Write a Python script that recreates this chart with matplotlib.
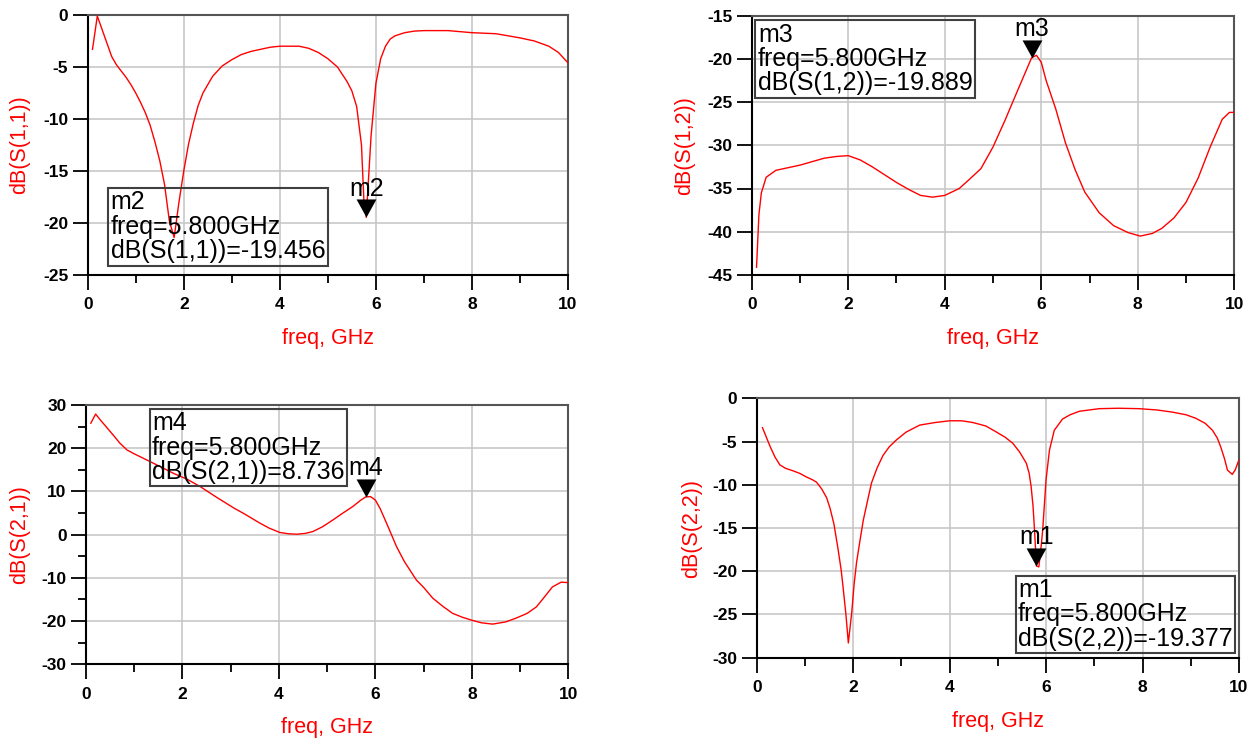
import matplotlib
matplotlib.use("Agg")
import matplotlib.pyplot as plt
from matplotlib.path import Path
from matplotlib.ticker import MultipleLocator

plt.rcParams['font.family'] = ['Liberation Sans', 'DejaVu Sans']
plt.rcParams['axes.unicode_minus'] = False

# ---------------- data ----------------
s11_f = [0.1, 0.2, 0.3, 0.4, 0.5, 0.6, 0.7, 0.8, 0.9, 1.0, 1.1, 1.2, 1.3, 1.4, 1.5,
         1.6, 1.7, 1.8, 1.9, 2.0, 2.1, 2.2, 2.3, 2.4, 2.6, 2.8, 3.0, 3.2, 3.4, 3.6,
         3.8, 4.0, 4.2, 4.4, 4.6, 4.8, 5.0, 5.2, 5.4, 5.5, 5.6, 5.7, 5.75, 5.8, 5.85,
         5.9, 6.0, 6.1, 6.2, 6.3, 6.4, 6.6, 6.8, 7.0, 7.5, 8.0, 8.5, 9.0, 9.3, 9.6,
         9.8, 10.0]
s11_db = [-3.3, -0.1, -1.4, -2.7, -4.0, -4.8, -5.4, -6.0, -6.7, -7.5, -8.4, -9.4, -10.6,
          -12.2, -14.0, -16.3, -19.8, -21.4, -18.0, -15.0, -12.4, -10.4, -8.7, -7.5,
          -5.9, -4.9, -4.3, -3.8, -3.5, -3.3, -3.1, -3.0, -3.0, -3.0, -3.2, -3.6, -4.2,
          -5.0, -6.4, -7.3, -8.8, -12.5, -17.8, -19.456, -15.5, -11.6, -6.6, -4.2,
          -3.0, -2.3, -2.0, -1.7, -1.55, -1.5, -1.5, -1.7, -1.8, -2.2, -2.5, -3.0,
          -3.6, -4.6]

s12_f = [0.1, 0.15, 0.2, 0.3, 0.5, 0.75, 1.0, 1.25, 1.5, 1.75, 2.0, 2.25, 2.5, 2.75,
         3.0, 3.25, 3.5, 3.75, 4.0, 4.3, 4.5, 4.75, 5.0, 5.25, 5.5, 5.8, 5.9, 6.0,
         6.1, 6.3, 6.5, 6.7, 6.9, 7.2, 7.5, 7.8, 8.05, 8.3, 8.5, 8.75, 9.0, 9.25,
         9.5, 9.75, 9.9, 10.0]
s12_db = [-44.1, -38.0, -35.5, -33.7, -32.9, -32.6, -32.3, -31.9, -31.5, -31.3, -31.2,
          -31.7, -32.5, -33.4, -34.3, -35.1, -35.8, -36.0, -35.8, -35.0, -34.0, -32.7,
          -30.2, -27.1, -23.8, -19.889, -19.6, -20.4, -22.5, -25.8, -29.7, -32.8,
          -35.4, -37.8, -39.3, -40.1, -40.5, -40.2, -39.6, -38.4, -36.6, -33.8,
          -30.2, -27.0, -26.2, -26.2]

s21_f = [0.1, 0.2, 0.3, 0.4, 0.56, 0.7, 0.85, 1.0, 1.33, 1.6, 1.81, 2.1, 2.37, 2.7,
         3.06, 3.3, 3.6, 3.8, 4.02, 4.2, 4.37, 4.55, 4.7, 4.9, 5.12, 5.3, 5.53, 5.7,
         5.8, 5.9, 6.0, 6.1, 6.23, 6.44, 6.6, 6.85, 7.0, 7.19, 7.4, 7.6, 7.8, 8.0,
         8.2, 8.43, 8.7, 8.92, 9.15, 9.34, 9.5, 9.67, 9.85, 10.0]
s21_db = [25.8, 27.9, 26.5, 25.2, 23.1, 21.2, 19.6, 18.7, 16.9, 15.4, 14.2, 12.8, 11.1,
          8.7, 6.2, 4.7, 2.7, 1.5, 0.5, 0.2, 0.1, 0.3, 0.7, 1.8, 3.4, 4.8, 6.5, 8.0,
          8.736, 8.8, 8.0, 6.0, 2.7, -2.8, -6.2, -10.5, -12.2, -14.7, -16.6, -18.2,
          -19.1, -19.8, -20.4, -20.7, -20.2, -19.3, -18.2, -16.7, -14.5, -12.1,
          -11.0, -11.1]

s22_f = [0.12, 0.2, 0.28, 0.38, 0.48, 0.6, 0.76, 0.9, 1.03, 1.15, 1.24, 1.35, 1.45,
         1.52, 1.6, 1.68, 1.75, 1.79, 1.85, 1.9, 1.97, 2.02, 2.07, 2.14, 2.21, 2.3,
         2.38, 2.5, 2.62, 2.75, 2.9, 3.1, 3.38, 3.7, 4.0, 4.25, 4.48, 4.75, 4.97,
         5.15, 5.31, 5.45, 5.59, 5.65, 5.69, 5.73, 5.76, 5.8, 5.85, 5.9, 5.93, 6.0,
         6.07, 6.17, 6.34, 6.5, 6.69, 7.1, 7.5, 7.93, 8.3, 8.62, 8.9, 9.1, 9.3,
         9.45, 9.55, 9.62, 9.7, 9.76, 9.86, 9.92, 10.0]
s22_db = [-3.4, -4.5, -5.6, -6.8, -7.7, -8.1, -8.4, -8.7, -9.1, -9.4, -9.7, -10.5,
          -11.5, -12.7, -14.5, -17.2, -19.8, -21.8, -25.0, -28.3, -24.8, -21.5, -19.0,
          -16.5, -14.1, -11.8, -9.8, -8.0, -6.6, -5.6, -4.8, -3.9, -3.1, -2.8, -2.6,
          -2.6, -2.8, -3.2, -3.9, -4.5, -5.2, -6.2, -7.5, -8.7, -10.2, -12.5, -15.2,
          -19.377, -19.5, -17.0, -15.2, -9.4, -6.0, -3.7, -2.4, -1.9, -1.5, -1.2,
          -1.15, -1.2, -1.35, -1.6, -1.9, -2.3, -2.9, -3.7, -4.6, -5.6, -7.0, -8.3,
          -8.8, -8.3, -7.1]

ylabels = ["dB(S(1,1))", "dB(S(1,2))", "dB(S(2,1))", "dB(S(2,2))"]
marker_names = ["m2", "m3", "m4", "m1"]
marker_freq = 5.8
marker_vals = [-19.456, -19.889, 8.736, -19.377]
ylims = [(-25, 0), (-45, -15), (-30, 30), (-30, 0)]
ymajor = [5, 5, 10, 5]
yminor = [None, None, 5, None]
xticks = [0, 2, 4, 6, 8, 10]

# ---------------- layout ----------------
W, H = 1256, 746
fig = plt.figure(figsize=(W / 100, H / 100), dpi=100)
fig.patch.set_facecolor('white')

# axes boxes in pixels: (x0, x1, ytop, ybottom)
boxes = [(87.7, 568.0, 15.0, 275.0),
         (751.7, 1234.3, 15.5, 275.0),
         (86.0, 568.3, 405.0, 664.3),
         (756.7, 1239.0, 398.3, 657.7)]
ylabel_x = [-0.120, -0.1175, -0.115, -0.114]
info_pos = [(0.042, 0.338), (0.007, 0.985), (0.131, 0.988), (0.536, 0.319)]

series = [(s11_f, s11_db), (s12_f, s12_db), (s21_f, s21_db), (s22_f, s22_db)]

tri = Path([(-1.1, 2.0), (1.1, 2.0), (0.0, 0.0), (-1.1, 2.0)],
           [Path.MOVETO, Path.LINETO, Path.LINETO, Path.CLOSEPOLY])

red = '#ff0000'
for i in range(4):
    x0, x1, yt, yb = boxes[i]
    ax = fig.add_axes([x0 / W, 1 - yb / H, (x1 - x0) / W, (yb - yt) / H])
    f, d = series[i]
    ax.plot(f, d, color=red, lw=1.0, zorder=3)
    ax.set_xlim(0, 10)
    ax.set_ylim(*ylims[i])
    ax.set_xticks(xticks)
    ax.xaxis.set_minor_locator(MultipleLocator(1))
    ax.yaxis.set_major_locator(MultipleLocator(ymajor[i]))
    if yminor[i]:
        ax.yaxis.set_minor_locator(MultipleLocator(yminor[i]))
    else:
        ax.yaxis.set_minor_locator(plt.NullLocator())
    ax.grid(True, which='major', color='#c8c8c8', lw=1.2, zorder=0)
    ax.set_axisbelow(True)
    ax.tick_params(which='major', direction='out', length=11, width=1.3,
                   color='black', labelsize=12.5, pad=5)
    ax.tick_params(which='minor', direction='out', length=5.5, width=1.3,
                   color='black')
    for lab in ax.get_xticklabels() + ax.get_yticklabels():
        lab.set_fontweight('bold')
    ax.tick_params(axis='x', which='major', pad=5)
    ax.tick_params(axis='y', which='major', pad=3)
    for s in ['left', 'bottom']:
        ax.spines[s].set_color('black')
        ax.spines[s].set_linewidth(1.5)
    for s in ['top', 'right']:
        ax.spines[s].set_color('#555555')
        ax.spines[s].set_linewidth(1.5)

    ax.set_ylabel(ylabels[i], color=red, fontsize=15.5)
    ax.yaxis.set_label_coords(ylabel_x[i], 0.5)
    ax.set_xlabel("freq, GHz", color=red, fontsize=15.5)
    ax.xaxis.set_label_coords(0.5, -0.205)

    # marker
    mv = marker_vals[i]
    ax.plot([marker_freq], [mv], linestyle='none', marker=tri, markersize=26,
            markerfacecolor='black', markeredgecolor='black', markeredgewidth=0,
            zorder=5, clip_on=False)
    ax.annotate(marker_names[i], xy=(marker_freq, mv), xytext=(0, 15.5),
                textcoords='offset points', ha='center', va='baseline',
                fontsize=18, zorder=6)

    info = "%s\nfreq=5.800GHz\n%s=%.3f" % (marker_names[i], ylabels[i], mv)
    ax.text(info_pos[i][0] + 0.006, info_pos[i][1] - 0.012, info,
            transform=ax.transAxes, ha='left', va='top', fontsize=18,
            linespacing=1.02, zorder=6,
            bbox=dict(boxstyle='square,pad=0.1', fc='none', ec='#404040', lw=1.5))

fig.savefig("out.png", dpi=100, facecolor='white')
